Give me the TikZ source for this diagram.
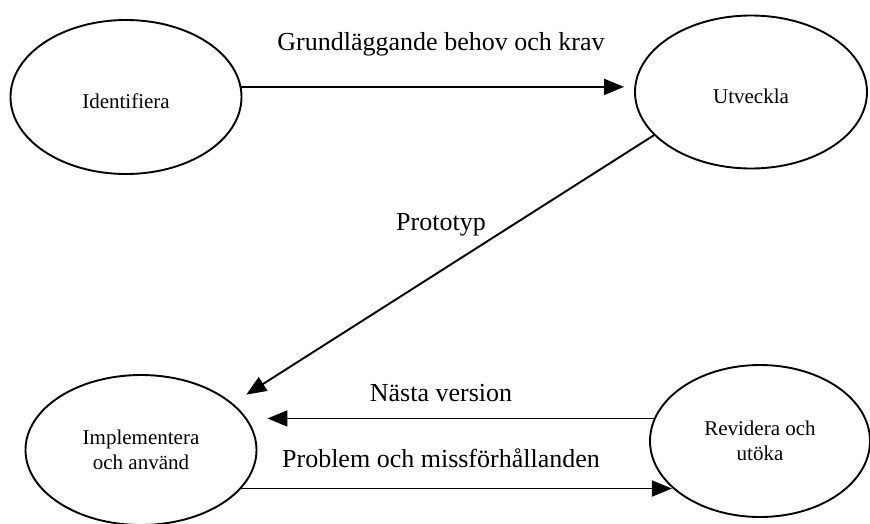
\documentclass[tikz,border=0pt]{standalone}
\usepackage{fontspec}
\setmainfont{Liberation Serif}
\usetikzlibrary{arrows.meta,shapes.geometric}
\tikzset{
  phase/.style={ellipse, draw, line width=1.9pt, inner sep=0pt, align=center,
    font=\fontsize{21}{25}\selectfont},
  oneline/.style={text height=22pt, text depth=0pt},
  flow/.style={-{Triangle[length=20pt,width=16pt]}, line width=1.9pt},
  flabel/.style={anchor=base, font=\fontsize{26}{30}\selectfont},
}

\begin{document}
\begin{tikzpicture}[x=1pt,y=-1pt]
  \useasboundingbox (0,0) rectangle (870,523);

  % ---------- phases ----------
  \node[phase, oneline, minimum width=231pt, minimum height=154pt] (ident) at (126,97) {Identifiera};
  \node[phase, oneline, minimum width=232pt, minimum height=153pt] (utv)   at (751,92) {Utveckla};
  \node[phase, minimum width=231pt, minimum height=150pt] (impl) at (141,450) {Implementera\\och använd};
  \node[phase, minimum width=220pt, minimum height=152pt] (rev)  at (760,441) {Revidera och\\utöka};

  % ---------- flows ----------
  \draw[flow, shorten >=10pt] (ident.5) -- (ident.5 -| utv.west);
  \draw[flow, shorten >=16pt] (utv.204) -- (impl.27);
  \draw[flow, shorten >=10pt] (rev.168) -- (rev.168 -| impl.east);
  \draw[flow] (impl.339) -- (impl.339 -| rev.208);

  % ---------- labels ----------
  \node[flabel] (lkrav)  at (441,50)  {Grundläggande behov och krav};
  \node[flabel] (lproto) at (441,230) {Prototyp};
  \node[flabel] (lnext)  at (441,401) {Nästa version};
  \node[flabel] (lprob)  at (441,467) {Problem och missförhållanden};

\end{tikzpicture}
\end{document}
